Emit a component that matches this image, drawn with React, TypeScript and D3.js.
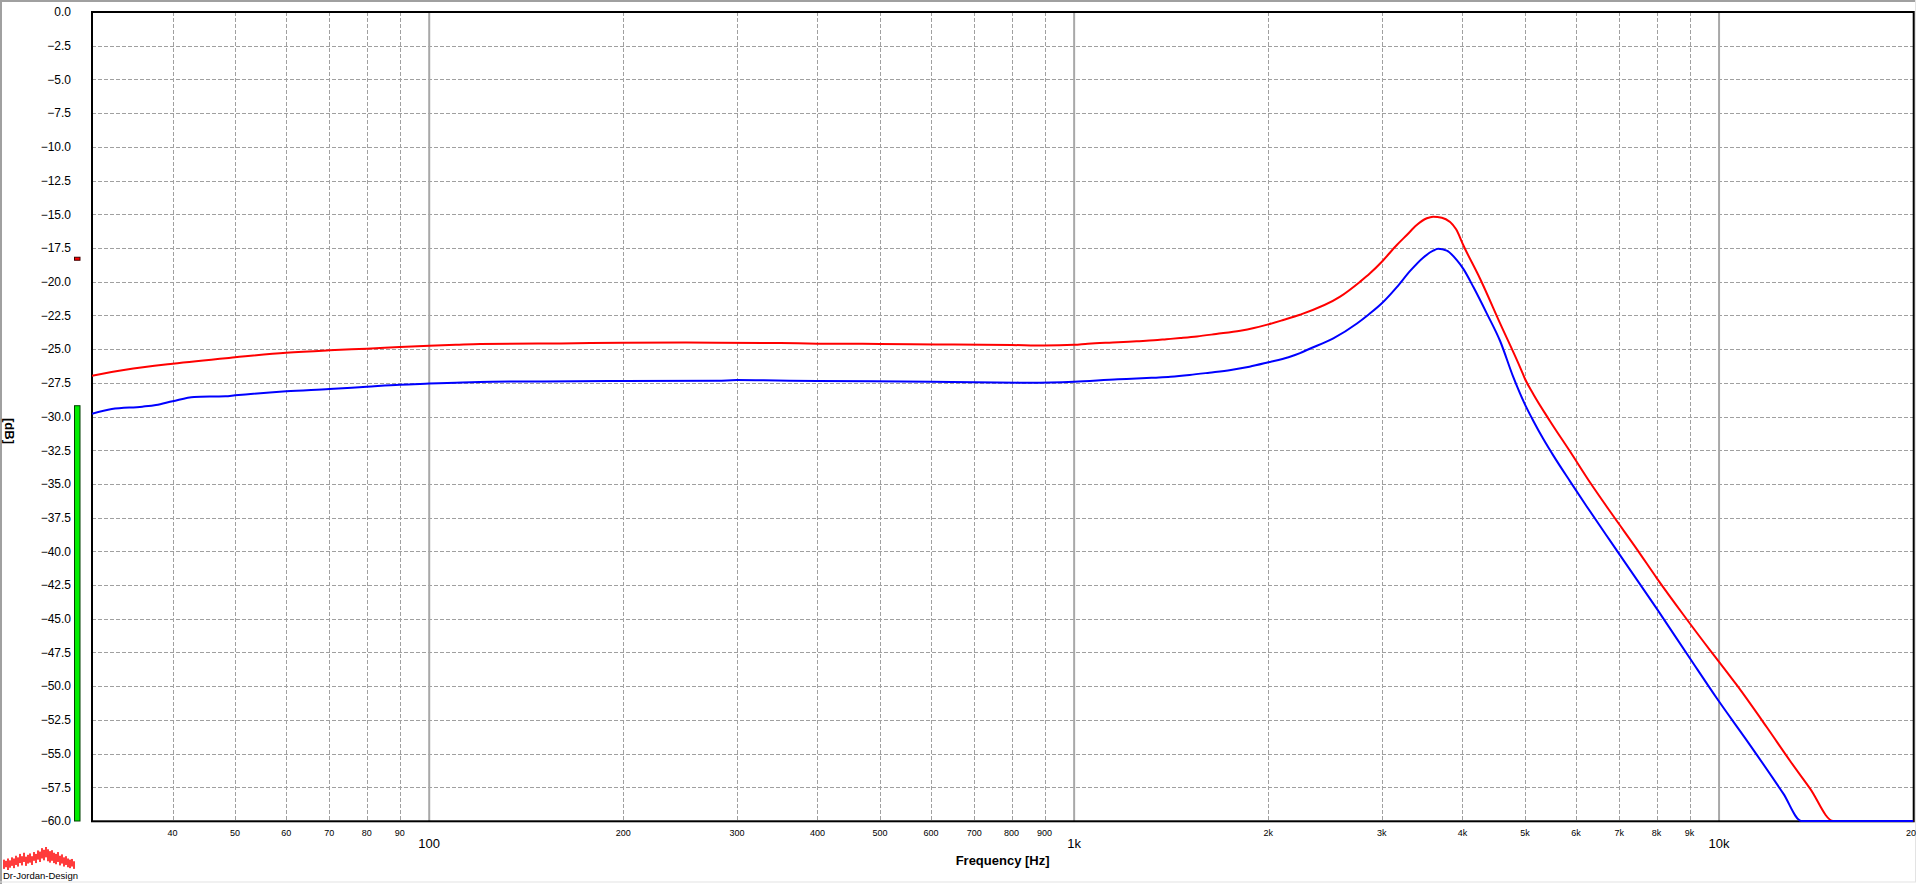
import React from 'react';
import * as d3 from 'd3';

// ---- data ----
const redFreq = [30, 33.8, 40, 50, 60, 70, 80, 90, 100, 110, 120, 160, 200, 250, 350, 400, 500, 610, 800, 900, 1000, 1050, 1170, 1250, 1330, 1390, 1460, 1550, 1660, 1810, 1900, 2000, 2110, 2240, 2585, 2776, 2876, 3000, 3165, 3280, 3398, 3523, 3603, 3717, 3911, 4013, 4262, 4576, 4930, 5000, 5153, 5470, 5875, 6310, 6860, 7460, 8010, 8810, 9680, 10000, 10650, 11860, 12890, 13840, 15040, 20000];
const redDb = [-26.97, -26.53, -26.08, -25.61, -25.27, -25.09, -24.97, -24.85, -24.75, -24.68, -24.62, -24.58, -24.53, -24.52, -24.55, -24.6, -24.62, -24.66, -24.7, -24.74, -24.68, -24.6, -24.5, -24.42, -24.35, -24.27, -24.18, -24.06, -23.88, -23.64, -23.44, -23.17, -22.84, -22.45, -21.11, -20.0, -19.38, -18.52, -17.28, -16.54, -15.8, -15.3, -15.18, -15.26, -16.12, -17.3, -19.8, -23.09, -26.5, -27.2, -28.35, -30.35, -32.6, -34.9, -37.4, -39.85, -42.0, -44.72, -47.32, -48.19, -49.91, -53.05, -55.55, -57.6, -60, -60];

const blueFreq = [30, 32.2, 35.9, 37.7, 40, 43.2, 48.3, 50, 60, 70, 80, 90, 100, 110, 125, 150, 200, 280, 300, 330, 400, 600, 700, 850, 1000, 1170, 1250, 1330, 1410, 1510, 1620, 1750, 1870, 2000, 2150, 2240, 2300, 2523, 2745, 2859, 3000, 3165, 3319, 3480, 3603, 3667, 3783, 3921, 4013, 4160, 4363, 4576, 4799, 5000, 5153, 5340, 5535, 5875, 6235, 6776, 7365, 8010, 9016, 9920, 11170, 12580, 13420, 20000];
const blueDb = [-29.79, -29.44, -29.27, -29.15, -28.87, -28.55, -28.5, -28.43, -28.13, -27.96, -27.79, -27.64, -27.56, -27.49, -27.42, -27.4, -27.37, -27.35, -27.3, -27.32, -27.37, -27.42, -27.46, -27.49, -27.42, -27.24, -27.19, -27.12, -27.05, -26.92, -26.75, -26.55, -26.31, -25.98, -25.6, -25.3, -25.05, -24.2, -23.1, -22.45, -21.6, -20.4, -19.2, -18.2, -17.7, -17.55, -17.7, -18.4, -19.05, -20.4, -22.35, -24.4, -27.1, -29.1, -30.33, -31.67, -32.9, -34.81, -36.67, -39.21, -41.73, -44.27, -47.95, -50.9, -54.37, -57.97, -60, -60];

const yTickValues = [0, -2.5, -5, -7.5, -10, -12.5, -15, -17.5, -20, -22.5, -25, -27.5, -30, -32.5, -35, -37.5, -40, -42.5, -45, -47.5, -50, -52.5, -55, -57.5, -60];
const minorFreqTicks = [40, 50, 60, 70, 80, 90, 200, 300, 400, 500, 600, 700, 800, 900, 2000, 3000, 4000, 5000, 6000, 7000, 8000, 9000, 20000];
const minorFreqLabels = ['40', '50', '60', '70', '80', '90', '200', '300', '400', '500', '600', '700', '800', '900', '2k', '3k', '4k', '5k', '6k', '7k', '8k', '9k', '20k'];
const majorFreqTicks = [100, 1000, 10000];
const majorFreqLabels = ['100', '1k', '10k'];

// level meters on the left
const meterGreenDb = -29.2;
const meterRedDb = -18.3;

// decorative logo levels (relative)
const logoTop = [0.45, 0.4, 0.5, 0.42, 0.55, 0.5, 0.62, 0.55, 0.7, 0.6, 0.75, 0.58, 0.66, 0.72, 0.6, 0.78, 0.7, 0.85, 0.8, 0.95, 0.88, 1.0, 0.9, 0.82, 0.86, 0.75, 0.7, 0.78, 0.62, 0.68, 0.55, 0.6, 0.5, 0.45, 0.48, 0.38];
const logoBottom = [0.05, 0.12, 0.0, 0.1, 0.18, 0.08, 0.22, 0.15, 0.3, 0.2, 0.35, 0.18, 0.28, 0.32, 0.22, 0.4, 0.3, 0.45, 0.35, 0.5, 0.42, 0.55, 0.38, 0.32, 0.4, 0.3, 0.25, 0.35, 0.2, 0.28, 0.15, 0.22, 0.12, 0.08, 0.15, 0.05];

const W = 1916;
const H = 884;
const FONT = "'Liberation Sans', Arial, Helvetica, sans-serif";

export default function App() {
  const x = d3.scaleLog().domain([30, 20000]).range([92, 1913.2]);
  const y = d3.scaleLinear().domain([-60, 0]).range([821, 12]);
  const fmt = d3.format('.1f');

  const line = d3
    .line<[number, number]>()
    .x((d) => x(d[0]))
    .y((d) => y(d[1]))
    .curve(d3.curveMonotoneX);

  const redPts: [number, number][] = redFreq.map((f, i) => [f, redDb[i]]);
  const bluePts: [number, number][] = blueFreq.map((f, i) => [f, blueDb[i]]);

  const [x0, x1] = x.range();
  const [yB, yT] = y.range();

  const logoX = d3.scaleLinear().domain([0, logoTop.length]).range([3, 75]);
  const logoY = d3.scaleLinear().domain([0, 1]).range([870, 847]);

  return (
    <svg
      width={W}
      height={H}
      style={{ position: 'absolute', left: 0, top: 0, display: 'block', background: '#fff' }}
    >
      <defs>
        <clipPath id="plotClip">
          <rect x={x0} y={yT - 1} width={x1 - x0 + 2} height={yB - yT + 2.5} />
        </clipPath>
      </defs>
      <rect x={0} y={0} width={W} height={H} fill="#fff" />
      {/* window frame */}
      <line x1={1} y1={0} x2={1} y2={H} stroke="#a0a0a0" strokeWidth={2} />
      <line x1={0} y1={1} x2={W} y2={1} stroke="#a0a0a0" strokeWidth={2} />
      <line x1={0} y1={882} x2={W} y2={882} stroke="#e3e3e3" strokeWidth={1} />
      <line x1={1915.5} y1={0} x2={1915.5} y2={882} stroke="#e3e3e3" strokeWidth={1} />

      {/* horizontal dashed grid */}
      {yTickValues
        .filter((v) => v !== 0 && v !== -60)
        .map((v) => (
          <line
            key={'h' + v}
            x1={x0}
            x2={x1}
            y1={Math.round(y(v)) + 0.5}
            y2={Math.round(y(v)) + 0.5}
            stroke="#a0a0a0"
            strokeWidth={1}
            strokeDasharray="4,2"
          />
        ))}
      {/* vertical minor dashed grid */}
      {minorFreqTicks
        .filter((f) => f < 20000)
        .map((f) => (
          <line
            key={'v' + f}
            x1={Math.round(x(f)) + 0.5}
            x2={Math.round(x(f)) + 0.5}
            y1={yT}
            y2={yB}
            stroke="#a0a0a0"
            strokeWidth={1}
            strokeDasharray="4,2"
          />
        ))}
      {/* decade lines */}
      {majorFreqTicks.map((f) => (
        <line key={'d' + f} x1={x(f)} x2={x(f)} y1={yT} y2={yB} stroke="#a8a8a8" strokeWidth={2} />
      ))}

      {/* plot border */}
      <rect x={x0} y={yT} width={x1 - x0 + 0.5} height={yB - yT + 0.3} fill="none" stroke="#000" strokeWidth={2} />

      {/* curves */}
      <g clipPath="url(#plotClip)">
        <path d={line(redPts) || ''} fill="none" stroke="#ff0000" strokeWidth={2} />
        <path d={line(bluePts) || ''} fill="none" stroke="#0000ff" strokeWidth={2} />
      </g>

      {/* y tick labels */}
      {yTickValues.map((v) => (
        <text
          key={'yl' + v}
          x={71}
          y={y(v)}
          dy="0.36em"
          textAnchor="end"
          fontFamily={FONT}
          fontSize={12}
          fill="#000"
        >
          {fmt(v === 0 ? 0 : v)}
        </text>
      ))}

      {/* x minor labels */}
      {minorFreqTicks.map((f, i) => (
        <text
          key={'xl' + f}
          x={x(f)}
          y={836.3}
          textAnchor="middle"
          fontFamily={FONT}
          fontSize={9}
          fill="#000"
        >
          {minorFreqLabels[i]}
        </text>
      ))}
      {/* x major labels */}
      {majorFreqTicks.map((f, i) => (
        <text
          key={'xm' + f}
          x={x(f)}
          y={847.5}
          textAnchor="middle"
          fontFamily={FONT}
          fontSize={13}
          fill="#000"
        >
          {majorFreqLabels[i]}
        </text>
      ))}

      {/* axis titles */}
      <text
        x={(x0 + x1) / 2}
        y={864.6}
        textAnchor="middle"
        fontFamily={FONT}
        fontSize={13}
        fontWeight="bold"
        fill="#000"
      >
        Frequency [Hz]
      </text>
      <text
        transform={`translate(10,431) rotate(90)`}
        textAnchor="middle"
        dy="0.35em"
        fontFamily={FONT}
        fontSize={13}
        fontWeight="bold"
        fill="#000"
      >
        [dB]
      </text>

      {/* level meters */}
      <rect
        x={74.5}
        y={y(meterGreenDb)}
        width={5.5}
        height={yB - y(meterGreenDb)}
        fill="#00ee00"
        stroke="#004000"
        strokeWidth={1}
      />
      <rect x={74.5} y={y(meterRedDb) - 1.5} width={5.5} height={3} fill="#ff0000" stroke="#400000" strokeWidth={1} />

      {/* logo */}
      <g>
        {logoTop.map((t, i) => (
          <rect
            key={'lg' + i}
            x={logoX(i)}
            y={logoY(t)}
            width={2}
            height={logoY(logoBottom[i]) - logoY(t)}
            fill="#ff3b3b"
          />
        ))}
        <text x={3} y={879} fontFamily={FONT} fontSize={9.5} fill="#000">
          Dr-Jordan-Design
        </text>
      </g>
    </svg>
  );
}
